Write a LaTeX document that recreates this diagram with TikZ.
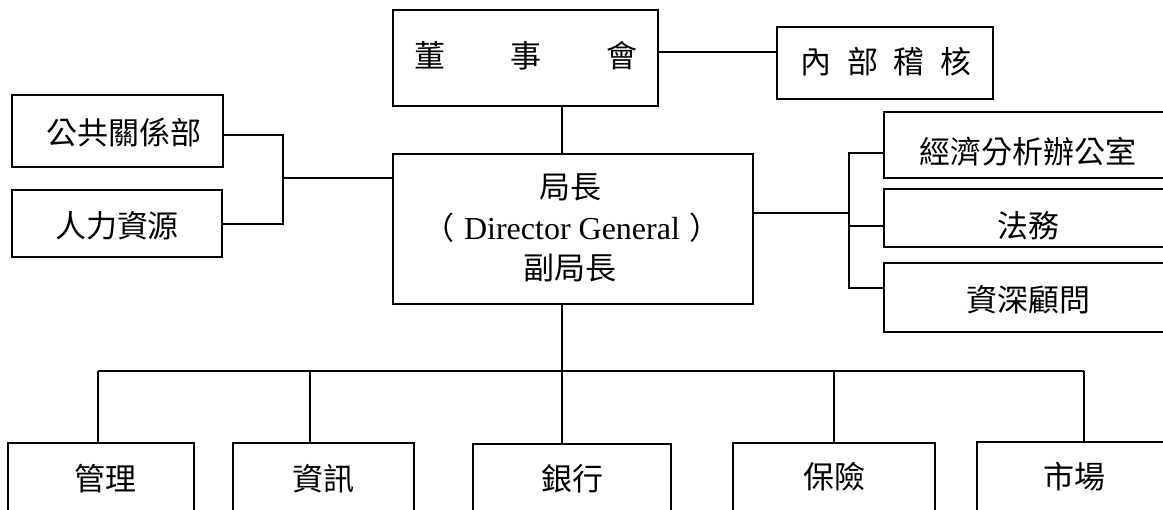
\documentclass[tikz,border=0pt]{standalone}
\usepackage{fontspec}
\setmainfont{Liberation Serif}
\newfontfamily\cjk{Noto Sans CJK TC}
\begin{document}
\begin{tikzpicture}[x=1pt,y=-1pt,
  box/.style={draw, line width=1.8pt, inner sep=0pt, outer sep=0pt, rectangle},
  lbl/.style={inner sep=0pt, font=\cjk\fontsize{31}{36}\selectfont},
  conn/.style={line width=1.8pt}]
\useasboundingbox (0,0) rectangle (1163,510);
\begin{scope}
\clip (0,0) rectangle (1163,510);
% boxes
\node[box, minimum width=265pt, minimum height=96pt] (board) at (525.5,58) {};
\node[box, minimum width=216pt, minimum height=72pt] (audit) at (885,63) {};
\node[box, minimum width=211pt, minimum height=72pt] (pr) at (117.5,131) {};
\node[box, minimum width=210pt, minimum height=67pt] (hr) at (117,223.5) {};
\node[box, minimum width=360pt, minimum height=150pt] (dg) at (573,229) {};
\node[box, minimum width=288pt, minimum height=66pt] (econ) at (1028,145) {};
\node[box, minimum width=288pt, minimum height=58pt] (legal) at (1028,218) {};
\node[box, minimum width=288pt, minimum height=69pt] (senior) at (1028,297.5) {};
\node[box, minimum width=186pt, minimum height=120pt] (mgmt) at (101,503) {};
\node[box, minimum width=181pt, minimum height=120pt] (info) at (323.5,503) {};
\node[box, minimum width=198pt, minimum height=120pt] (bank) at (572,504) {};
\node[box, minimum width=202pt, minimum height=120pt] (ins) at (834,503) {};
\node[box, minimum width=195pt, minimum height=120pt] (mkt) at (1074.5,502) {};
% texts
\node[lbl] (tboard) at (526,56) {董\hspace{65pt}事\hspace{65pt}會};
\node[lbl] (taudit) at (886,62) {內\hspace{16pt}部\hspace{16pt}稽\hspace{16pt}核};
\node[lbl] (tpr) at (124,132) {公共關係部};
\node[lbl] (thr) at (117,226) {人力資源};
\node[lbl] (tdg1) at (570,187) {局長};
\node[inner sep=0pt, font=\fontsize{32}{36}\selectfont] (tdg2) at (572,228) {{\cjk\fontsize{31}{36}\selectfont （}\hspace{10pt}Director General\hspace{10pt}{\cjk\fontsize{31}{36}\selectfont ）}};
\node[lbl] (tdg3) at (570,268) {副局長};
\node[lbl] (tecon) at (1028,152) {經濟分析辦公室};
\node[lbl] (tlegal) at (1028,226) {法務};
\node[lbl] (tsenior) at (1028,300) {資深顧問};
\node[lbl] (tmgmt) at (105,479) {管理};
\node[lbl] (tinfo) at (323,479) {資訊};
\node[lbl] (tbank) at (572,479) {銀行};
\node[lbl] (tins) at (834,477) {保險};
\node[lbl] (tmkt) at (1074,477) {市場};
% connectors
\coordinate (jl) at (283,178);
\coordinate (jr) at (849,213);
\coordinate (bus) at (562,371);
\draw[conn] (board.east |- 0,52) -- (audit.west |- 0,52);
\draw[conn] (board.south -| 562,0) -- (dg.north -| 562,0);
\draw[conn] (pr.east |- 0,135) -| (jl) |- (hr.east |- 0,224);
\draw[conn] (jl) -- (dg.west |- jl);
\draw[conn] (dg.east |- jr) -- (jr);
\draw[conn] (econ.west |- 0,153) -| (jr) |- (senior.west |- 0,288);
\draw[conn] (jr |- 0,226) -- (legal.west |- 0,226);
\draw[conn] (dg.south -| bus) -- (bus);
\draw[conn] (98,371) -- (1084,371);
\draw[conn] (98,371) -- (mgmt.north -| 98,0);
\draw[conn] (310,371) -- (info.north -| 310,0);
\draw[conn] (bus) -- (bank.north -| bus);
\draw[conn] (834,371) -- (ins.north -| 834,0);
\draw[conn] (1084,371) -- (mkt.north -| 1084,0);
\end{scope}
\end{tikzpicture}
\end{document}
